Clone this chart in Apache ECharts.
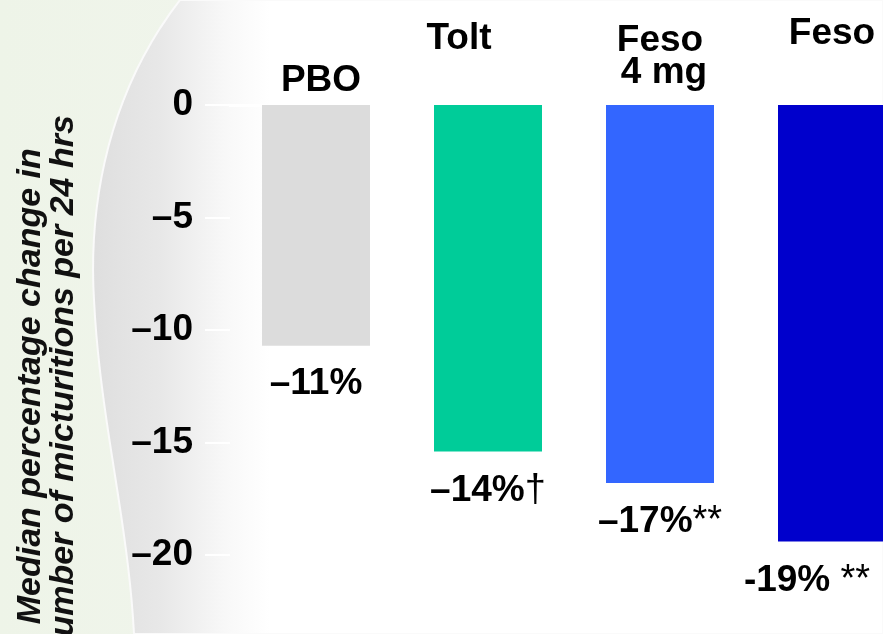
<!DOCTYPE html>
<html>
<head>
<meta charset="utf-8">
<script src="https://cdn.jsdelivr.net/npm/echarts@6/dist/echarts.min.js"></script>
<style>
  html, body { margin: 0; padding: 0; background: #fff; }
  #chart { width: 883px; height: 634px; }
</style>
</head>
<body>
<div id="chart"></div>
<script>
// categories and values
let categories = ['PBO', 'Tolt', 'Feso\n4 mg', 'Feso'];
let values = [-10.7, -15.4, -16.8, -19.4];
let valueTexts = ['–11%', '–14%', '–17%', '-19% '];
let valueMarks = ['', '†', '**', '**'];
let barColors = ['#dcdcdc', '#00cc99', '#3366ff', '#0000cc'];
let yTicks = [0, -5, -10, -15, -20, -25];

let font = '"Liberation Sans", Arial, sans-serif';

// curved edge of the slide background (two cubic pieces)
function backdropPoints(){
    let segs = [
        [[180, 0], [110, 90], [88, 200], [94, 300]],
        [[94, 300], [100, 420], [128, 520], [134, 634]]
    ];
    let pts = [];
    for(let s = 0;s<segs.length;s++){
        let p = segs[s];
        for(let k = 0;k<=20;k++){
            let t = k / 20, u = 1 - t;
            pts.push([
                u*u*u*p[0][0] + 3*u*u*t*p[1][0] + 3*u*t*t*p[2][0] + t*t*t*p[3][0],
                u*u*u*p[0][1] + 3*u*u*t*p[1][1] + 3*u*t*t*p[2][1] + t*t*t*p[3][1]
            ]);
        }
    }
    pts.push([883, 634], [883, 0]);
    return pts;
}

function setChart(){
    let myChart = echarts.init(document.getElementById('chart'));

    // padding round each category label: [top, right, bottom, left]
    let pads = [[0, 0, 0, 10], [0, 58, 84, 0], [0, 0, 16, 8], [0, 0, 94, 0]];
    let rich = { n: { fontSize: 37, fontWeight: 'bold', fontFamily: font, color: '#000', lineHeight: 40 } };
    for(let i = 0;i<pads.length;i++){
        rich['c' + i] = { fontSize: 37, fontWeight: 'bold', fontFamily: font, color: '#000', lineHeight: 40, padding: pads[i] };
    }
    // horizontal nudge of the value labels
    let labelShift = [0, 0, 0, -25];

    let option = {
        animation: false,
        backgroundColor: '#ffffff',
        graphic: [
            {
                type: 'rect', z: -10, silent: true,
                shape: { x: 0, y: 0, width: 600, height: 634 },
                style: { fill: new echarts.graphic.LinearGradient(0, 0, 1, 0, [
                    { offset: 0, color: '#eef4e8' },
                    { offset: 0.5, color: '#f1f5ed' },
                    { offset: 1, color: '#ffffff' }
                ]) }
            },
            {
                type: 'polygon', z: -9, silent: true,
                shape: { points: backdropPoints() },
                style: {
                    fill: new echarts.graphic.LinearGradient(90, 0, 270, 0, [
                        { offset: 0, color: '#dedede' },
                        { offset: 0.4, color: '#e8e8e8' },
                        { offset: 0.75, color: '#f8f8f8' },
                        { offset: 1, color: '#ffffff' }
                    ], true),
                    stroke: '#fafafa',
                    lineWidth: 2
                }
            }
        ],
        grid: { left: 230, top: 105, width: 688, height: 562.5, outerBoundsMode: 'none', containLabel: false },
        xAxis: {
            type: 'category',
            position: 'top',
            data: categories,
            axisLine: { show: true, lineStyle: { color: '#ffffff', width: 3 } },
            axisTick: { show: false },
            axisLabel: {
                margin: 4,
                interval: 0,
                formatter: function(value, idx){
                    let parts = value.split('\n');
                    return parts.map(function(s, k){
                        return k === parts.length - 1 ? '{c' + idx + '|' + s + '}' : '{n|' + s + '}';
                    }).join('\n');
                },
                rich: rich
            }
        },
        yAxis: {
            type: 'value',
            min: yTicks[yTicks.length - 1],
            max: yTicks[0],
            interval: 5,
            name: 'Median percentage change in\nnumber of micturitions per 24 hrs',
            nameLocation: 'middle',
            nameRotate: 90,
            nameGap: 150,
            nameTextStyle: { fontSize: 34, fontWeight: 'bold', fontStyle: 'italic', fontFamily: font, color: '#111', lineHeight: 33 },
            axisLine: { show: false },
            axisTick: { show: true, length: 25, lineStyle: { color: '#ffffff', width: 2 } },
            splitLine: { show: false },
            axisLabel: {
                margin: 37,
                fontSize: 37,
                fontWeight: 'bold',
                fontFamily: font,
                color: '#000',
                formatter: function(v){ return v < 0 ? '–' + Math.abs(v) : String(v); }
            }
        },
        series: [{
            type: 'bar',
            barWidth: 108,
            data: values.map(function(v, i){
                return { value: v, itemStyle: { color: barColors[i] }, label: { offset: [labelShift[i], 0] } };
            }),
            label: {
                show: true,
                position: 'bottom',
                distance: 20,
                formatter: function(p){
                    return '{v|' + valueTexts[p.dataIndex] + '}' + (valueMarks[p.dataIndex] ? '{m|' + valueMarks[p.dataIndex] + '}' : '');
                },
                rich: {
                    v: { fontSize: 37, fontWeight: 'bold', fontFamily: font, color: '#000' },
                    m: { fontSize: 38, fontWeight: 'normal', fontFamily: font, color: '#000' }
                }
            }
        }]
    };

    myChart.setOption(option);
}

window.onload = function(){
    setChart();
};
</script>
</body>
</html>
